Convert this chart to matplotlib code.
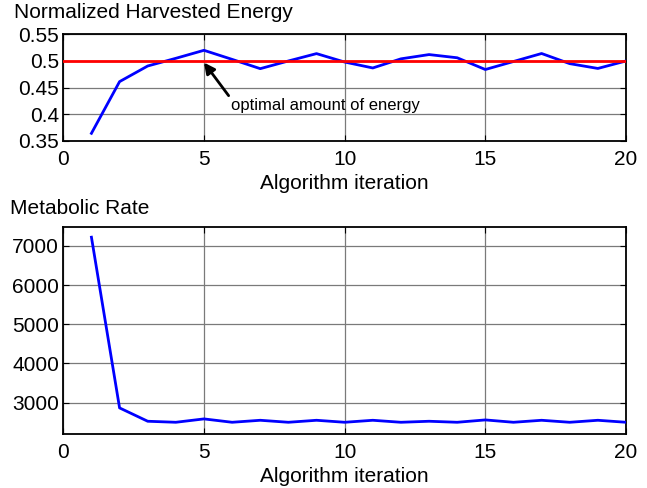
import matplotlib
matplotlib.use("Agg")
import matplotlib.pyplot as plt

plt.rcParams['font.family'] = ['Liberation Sans', 'DejaVu Sans']

iterations = list(range(1, 21))
energy = [0.3644, 0.4613, 0.4906, 0.505, 0.520, 0.503, 0.4856, 0.500, 0.5138, 0.498,
          0.4869, 0.504, 0.512, 0.506, 0.484, 0.499, 0.514, 0.495, 0.486, 0.500]
optimal = 0.5
metabolic = [7222, 2864, 2523, 2497, 2583, 2497, 2548, 2497, 2548, 2497,
             2548, 2497, 2523, 2497, 2557, 2497, 2548, 2497, 2548, 2497]

W, H = 647, 488
fig = plt.figure(figsize=(W / 100, H / 100), dpi=100)

def px_axes(left, top, right, bottom):
    return fig.add_axes([left / W, 1 - bottom / H, (right - left) / W, (bottom - top) / H])

ax1 = px_axes(63.3, 34.3, 626, 141)
ax2 = px_axes(63.3, 226.7, 626, 434.3)

fs = 15
for ax in (ax1, ax2):
    ax.set_xlim(0, 20)
    ax.set_xticks([0, 5, 10, 15, 20])
    ax.grid(True, color='#7a7a7a', linewidth=0.9)
    ax.set_axisbelow(True)
    ax.tick_params(direction='in', top=True, right=True, labelsize=fs, length=4, width=0.8, pad=3)
    ax.tick_params(axis='x', pad=6.5)
    for s in ax.spines.values():
        s.set_linewidth(1.3)
    ax.set_xlabel('Algorithm iteration', fontsize=fs, labelpad=3.5)

ax1.plot(iterations, energy, color='#0000ff', linewidth=2, zorder=3)
ax1.axhline(optimal, color='#ff0000', linewidth=2, zorder=4)
ax1.set_ylim(0.35, 0.55)
ax1.set_yticks([0.35, 0.4, 0.45, 0.5, 0.55])
ax1.set_yticklabels(['0.35', '0.4', '0.45', '0.5', '0.55'])
ax1.annotate('optimal amount of energy', xy=(5, 0.497), xytext=(5.95, 0.4157),
             fontsize=12, va='center', ha='left',
             arrowprops=dict(arrowstyle='-|>', color='black', lw=2,
                             mutation_scale=16, shrinkA=0, shrinkB=0,
                             relpos=(0.0, 1.0)),
             zorder=5)

ax2.plot(iterations, metabolic, color='#0000ff', linewidth=2, zorder=3)
ax2.set_ylim(2190, 7490)
ax2.set_yticks([3000, 4000, 5000, 6000, 7000])

fig.text(14 / W, 1 - 13 / H, 'Normalized Harvested Energy', fontsize=fs, va='center', ha='left')
fig.text(10 / W, 1 - 208 / H, 'Metabolic Rate', fontsize=fs, va='center', ha='left')

fig.savefig('out.png', dpi=100)
